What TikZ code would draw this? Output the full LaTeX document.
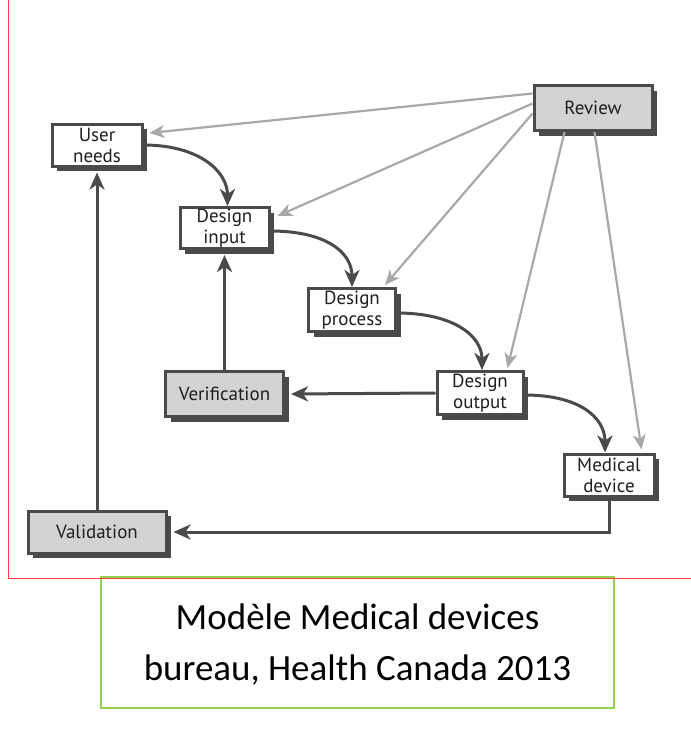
\documentclass[tikz,border=0pt]{standalone}
\usepackage{fontspec}
\setmainfont{PT Sans}
\newfontfamily\capfont{Carlito}
\usetikzlibrary{arrows.meta,shadows,calc}
\definecolor{bd}{HTML}{4A4A4A}
\definecolor{lg}{HTML}{D3D3D3}
\definecolor{ga}{HTML}{A8A8A8}
\definecolor{rl}{HTML}{FF3B3B}
\definecolor{gl}{HTML}{92D050}
\begin{document}
\begin{tikzpicture}[x=1pt,y=-1pt,
  box/.style={draw=bd,line width=3pt,fill=white,inner sep=0pt,align=center,
    font=\fontsize{19}{21}\selectfont,text=black!88,
    drop shadow={shadow xshift=5pt,shadow yshift=-5pt,fill=bd,opacity=1}},
  greybox/.style={box,fill=lg},
  dark/.style={draw=bd,line width=3pt,-{Stealth[length=17pt,width=15pt,inset=5pt]}},
  light/.style={draw=ga,line width=2.2pt,-{Stealth[length=15pt,width=13pt,inset=4.5pt]}}]
\useasboundingbox (0,0) rectangle (691,729);

% frames
\node[draw=gl,line width=1.5pt,minimum width=513pt,minimum height=131pt,inner sep=0pt] (cap) at (357.5,642.5) {};
\node[align=center,font=\capfont\fontsize{37}{51}\selectfont,text=black] (captext) at (357.5,645)
  {Modèle Medical devices\\bureau, Health Canada 2013};
\draw[rl,line width=1.5pt] (8.5,0) -- (8.5,578.5) -- (691,578.5);

% boxes
\node[box,minimum width=90pt,minimum height=42pt] (usern) at (97,145) {User\\needs};
\node[box,minimum width=89pt,minimum height=41pt] (dinput) at (224.5,228) {Design\\input};
\node[box,minimum width=87pt,minimum height=43pt] (dproc) at (352,310) {Design\\process};
\node[box,minimum width=86pt,minimum height=43pt] (dout) at (480,393) {Design\\output};
\node[box,minimum width=90pt,minimum height=42pt] (meddev) at (609,475) {Medical\\device};
\node[greybox,minimum width=118pt,minimum height=45pt] (review) at (593,108) {Review};
\node[greybox,minimum width=118pt,minimum height=45pt] (verif) at (224.5,394) {Verification};
\node[greybox,minimum width=138pt,minimum height=42pt] (valid) at (97,532) {Validation};

% dark connectors
\draw[dark] (usern.east) .. controls +(55,0) and +(0,-35) .. ([xshift=3pt]dinput.north);
\draw[dark] ([yshift=-3pt]dinput.east) .. controls +(55,0) and +(0,-35) .. (dproc.north);
\draw[dark] ([yshift=-3pt]dproc.east) .. controls +(55,0) and +(0,-35) .. ([xshift=2pt]dout.north);
\draw[dark] ([yshift=-2pt]dout.east) .. controls +(55,0) and +(0,-35) .. ([xshift=-4pt]meddev.north);
\coordinate (verifR) at ([xshift=6pt]verif.east);
\draw[dark] (dout.west) -- (verifR);
\coordinate (dinB) at ([yshift=-5pt]dinput.south);
\draw[dark] (verif.north) -- (dinB);
\coordinate (unB) at ([yshift=-5pt]usern.south);
\draw[dark] (valid.north) -- (unB);
\coordinate (valR) at ([xshift=6pt]valid.east);
\draw[dark] (meddev.south) |- (valR);

% light connectors from review
\coordinate (r1) at ($(review.north west)+(0,9.5)$);
\coordinate (r2) at ($(review.north west)+(0,19.5)$);
\coordinate (r3) at ($(review.north west)+(0,29.5)$);
\coordinate (r4) at ($(review.south west)+(32,0)$);
\coordinate (r5) at ($(review.south west)+(62,0)$);
\coordinate (e1) at ($(usern.east)+(6,-12)$);
\coordinate (e2) at ($(dinput.east)+(7,-12)$);
\coordinate (e3) at ($(dproc.north east)+(-12,-2)$);
\coordinate (e4) at ($(dout.north east)+(-17,-2)$);
\coordinate (e5) at ($(meddev.north east)+(-14,-3)$);
\draw[light] (r1) -- (e1);
\draw[light] (r2) -- (e2);
\draw[light] (r3) -- (e3);
\draw[light] (r4) -- (e4);
\draw[light] (r5) -- (e5);
\end{tikzpicture}
\end{document}
